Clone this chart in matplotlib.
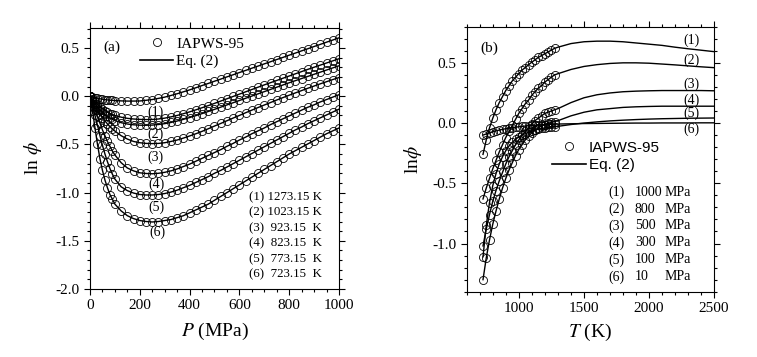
import matplotlib
matplotlib.use('Agg')
import matplotlib.pyplot as plt
from matplotlib.ticker import MultipleLocator
from matplotlib.lines import Line2D

plt.rcParams['font.family'] = 'serif'
plt.rcParams['font.serif'] = ['Liberation Serif', 'DejaVu Serif']
plt.rcParams['mathtext.fontset'] = 'stix'
plt.rcParams['axes.unicode_minus'] = False

# ---- panel (a): ln(phi) vs P for isotherms ----
P = [0, 10, 20, 30, 40, 50, 60, 70, 80, 90, 100,
     125, 150, 175, 200, 225, 250, 275, 300, 325, 350, 375, 400,
     425, 450, 475, 500, 525, 550, 575, 600, 625, 650, 675, 700,
     725, 750, 775, 800, 825, 850, 875, 900, 925, 950, 975, 1000]

lnphi_1273 = [0, -0.008, -0.015, -0.021, -0.027, -0.032, -0.036, -0.039, -0.042, -0.044, -0.046,
              -0.049, -0.051, -0.051, -0.050, -0.043, -0.035, -0.023, -0.010, 0.007, 0.025, 0.045, 0.065,
              0.087, 0.110, 0.132, 0.155, 0.177, 0.200, 0.222, 0.245, 0.267, 0.290, 0.312, 0.335,
              0.357, 0.380, 0.402, 0.425, 0.447, 0.470, 0.492, 0.515, 0.537, 0.560, 0.582, 0.605]
lnphi_extra = [0, -0.030, -0.060, -0.085, -0.110, -0.130, -0.150, -0.165, -0.180, -0.190, -0.200,
               -0.218, -0.230, -0.237, -0.241, -0.243, -0.242, -0.237, -0.228, -0.215, -0.200, -0.182, -0.163,
               -0.142, -0.120, -0.098, -0.075, -0.051, -0.027, -0.003, 0.021, 0.045, 0.069, 0.093, 0.117,
               0.140, 0.163, 0.186, 0.209, 0.232, 0.255, 0.278, 0.300, 0.322, 0.344, 0.366, 0.388]
lnphi_1023 = [0, -0.040, -0.078, -0.112, -0.142, -0.168, -0.190, -0.210, -0.227, -0.241, -0.253,
              -0.275, -0.289, -0.297, -0.301, -0.302, -0.300, -0.294, -0.285, -0.273, -0.258, -0.241, -0.222,
              -0.202, -0.181, -0.159, -0.137, -0.114, -0.091, -0.068, -0.045, -0.022, 0.001, 0.024, 0.047,
              0.070, 0.093, 0.116, 0.139, 0.161, 0.183, 0.205, 0.227, 0.249, 0.271, 0.293, 0.315]
lnphi_923 = [0, -0.050, -0.100, -0.145, -0.185, -0.222, -0.257, -0.288, -0.316, -0.340, -0.362,
             -0.410, -0.445, -0.470, -0.483, -0.490, -0.492, -0.490, -0.483, -0.470, -0.455, -0.435, -0.413,
             -0.390, -0.365, -0.338, -0.310, -0.283, -0.255, -0.227, -0.200, -0.172, -0.145, -0.118, -0.092,
             -0.066, -0.040, -0.015, 0.010, 0.034, 0.058, 0.082, 0.105, 0.128, 0.150, 0.172, 0.193]
lnphi_823 = [0, -0.070, -0.140, -0.210, -0.280, -0.350, -0.410, -0.470, -0.520, -0.570, -0.610,
             -0.690, -0.745, -0.775, -0.795, -0.802, -0.805, -0.800, -0.790, -0.775, -0.755, -0.730, -0.705,
             -0.675, -0.645, -0.615, -0.585, -0.555, -0.520, -0.490, -0.455, -0.425, -0.390, -0.360, -0.330,
             -0.295, -0.265, -0.235, -0.205, -0.175, -0.145, -0.115, -0.090, -0.060, -0.035, -0.010, 0.015]
lnphi_773 = [0, -0.100, -0.200, -0.300, -0.410, -0.510, -0.600, -0.680, -0.750, -0.810, -0.860,
             -0.940, -0.980, -1.005, -1.020, -1.025, -1.025, -1.020, -1.010, -0.995, -0.975, -0.950, -0.925,
             -0.895, -0.865, -0.835, -0.800, -0.770, -0.735, -0.700, -0.665, -0.630, -0.595, -0.560, -0.525,
             -0.490, -0.455, -0.420, -0.385, -0.350, -0.320, -0.285, -0.255, -0.225, -0.195, -0.165, -0.135]
lnphi_723 = [0, -0.150, -0.330, -0.500, -0.650, -0.770, -0.870, -0.950, -1.020, -1.070, -1.120,
             -1.190, -1.240, -1.270, -1.290, -1.300, -1.305, -1.300, -1.290, -1.280, -1.260, -1.240, -1.210,
             -1.180, -1.150, -1.120, -1.080, -1.040, -1.000, -0.960, -0.920, -0.880, -0.840, -0.800, -0.760,
             -0.720, -0.680, -0.640, -0.600, -0.565, -0.530, -0.495, -0.460, -0.425, -0.390, -0.360, -0.330]

isotherms = [lnphi_1273, lnphi_extra, lnphi_1023, lnphi_923, lnphi_823, lnphi_773, lnphi_723]
iso_labels = ['(1)', '(2)', '(3)', '(4)', '(5)', '(6)']
iso_label_pos = [(262, -0.17), (262, -0.40), (262, -0.63), (268, -0.91), (268, -1.15), (272, -1.41)]
iso_legend = ['(1) 1273.15 K', '(2) 1023.15 K', '(3)  923.15  K',
              '(4)  823.15  K', '(5)  773.15  K', '(6)  723.15  K']

# ---- panel (b): ln(phi) vs T for isobars ----
T_data = [723.15, 748.15, 773.15, 798.15, 823.15, 848.15, 873.15, 898.15, 923.15, 948.15,
          973.15, 998.15, 1023.15, 1048.15, 1073.15, 1098.15, 1123.15, 1148.15, 1173.15,
          1198.15, 1223.15, 1248.15, 1273.15]
T_ext = [1300, 1400, 1500, 1600, 1700, 1800, 1900, 2000, 2100, 2200, 2300, 2400, 2500]

phi_1000 = [-0.26, -0.14, -0.04, 0.04, 0.11, 0.17, 0.22, 0.27, 0.31, 0.35, 0.38, 0.41,
            0.44, 0.46, 0.485, 0.505, 0.525, 0.545, 0.56, 0.575, 0.59, 0.605, 0.62]
phi_800 = [-0.63, -0.54, -0.46, -0.38, -0.31, -0.24, -0.18, -0.12, -0.07, -0.02, 0.03, 0.08,
           0.12, 0.16, 0.19, 0.23, 0.26, 0.29, 0.31, 0.34, 0.36, 0.38, 0.40]
phi_500 = [-1.02, -0.88, -0.76, -0.65, -0.56, -0.48, -0.41, -0.34, -0.28, -0.23, -0.18, -0.14,
           -0.10, -0.07, -0.04, -0.01, 0.02, 0.04, 0.06, 0.08, 0.09, 0.10, 0.11]
phi_300 = [-1.30, -1.12, -0.97, -0.84, -0.73, -0.63, -0.54, -0.46, -0.39, -0.33, -0.27, -0.22,
           -0.18, -0.14, -0.11, -0.08, -0.06, -0.04, -0.025, -0.012, -0.002, 0.006, 0.012]
phi_100 = [-1.11, -0.85, -0.66, -0.52, -0.42, -0.34, -0.28, -0.23, -0.19, -0.16, -0.135, -0.115,
           -0.10, -0.087, -0.076, -0.066, -0.058, -0.051, -0.045, -0.040, -0.036, -0.032, -0.030]
phi_10 = [-0.100, -0.090, -0.080, -0.072, -0.065, -0.058, -0.052, -0.047, -0.042, -0.038, -0.034,
          -0.031, -0.028, -0.025, -0.022, -0.020, -0.018, -0.016, -0.014, -0.012, -0.011, -0.010, -0.009]

ext_1000 = [0.63, 0.66, 0.675, 0.68, 0.68, 0.675, 0.665, 0.655, 0.645, 0.63, 0.617, 0.605, 0.593]
ext_800 = [0.41, 0.445, 0.47, 0.485, 0.495, 0.50, 0.50, 0.497, 0.49, 0.483, 0.475, 0.467, 0.46]
ext_500 = [0.12, 0.17, 0.21, 0.235, 0.25, 0.26, 0.265, 0.268, 0.27, 0.27, 0.27, 0.27, 0.268]
ext_300 = [0.02, 0.06, 0.09, 0.11, 0.12, 0.13, 0.135, 0.138, 0.14, 0.14, 0.14, 0.14, 0.14]
ext_100 = [-0.027, -0.012, 0.0, 0.01, 0.018, 0.024, 0.029, 0.033, 0.036, 0.038, 0.04, 0.041, 0.042]
ext_10 = [-0.008, -0.006, -0.004, -0.003, -0.002, -0.001, 0.0, 0.0, 0.001, 0.001, 0.001, 0.002, 0.002]

isobars = [(phi_1000, ext_1000), (phi_800, ext_800), (phi_500, ext_500),
           (phi_300, ext_300), (phi_100, ext_100), (phi_10, ext_10)]
bar_label_pos = [(2330, 0.69), (2330, 0.52), (2330, 0.32), (2330, 0.19), (2330, 0.08), (2330, -0.05)]
bar_num = ['(1)', '(2)', '(3)', '(4)', '(5)', '(6)']
bar_p = ['1000', '800', '500', '300', '100', '10']

mk = dict(marker='o', ms=5.8, mfc='none', mec='k', mew=0.6, ls='none')

fig = plt.figure(figsize=(7.57, 3.57), dpi=100)
ax1 = fig.add_axes([0.1189, 0.1905, 0.3289, 0.7319])
ax2 = fig.add_axes([0.6169, 0.1829, 0.3263, 0.7423])

for y in isotherms:
    ax1.plot(P, y, **mk)
    ax1.plot(P, y, color='k', lw=1.0)

for (yd, ye) in isobars:
    ax2.plot(T_data, yd, **mk)
    ax2.plot(T_data + T_ext, yd + ye, color='k', lw=1.0)

# axes styling
for ax in (ax1, ax2):
    for s in ax.spines.values():
        s.set_linewidth(0.8)
    ax.tick_params(which='both', direction='out', top=True, right=True, labelsize=11, width=0.8)
    ax.tick_params(which='major', length=4)
    ax.tick_params(which='minor', length=2)

ax1.set_xlim(0, 1000)
ax1.set_ylim(-2.0, 0.71)
ax1.xaxis.set_major_locator(MultipleLocator(200))
ax1.xaxis.set_minor_locator(MultipleLocator(50))
ax1.yaxis.set_major_locator(MultipleLocator(0.5))
ax1.yaxis.set_minor_locator(MultipleLocator(0.1))
ax1.yaxis.set_major_formatter(plt.FormatStrFormatter('%.1f'))
ax1.set_xlabel('$P$ (MPa)', fontsize=14, labelpad=6)
ax1.set_ylabel(r'ln $\phi$', fontsize=14, labelpad=8)

ax2.set_xlim(600, 2500)
ax2.set_ylim(-1.4, 0.8)
ax2.set_xticks([1000, 1500, 2000, 2500])
ax2.xaxis.set_minor_locator(MultipleLocator(100))
ax2.yaxis.set_major_locator(MultipleLocator(0.5))
ax2.yaxis.set_minor_locator(MultipleLocator(0.1))
ax2.yaxis.set_major_formatter(plt.FormatStrFormatter('%.1f'))
ax2.set_xlabel('$T$ (K)', fontsize=14, labelpad=5)
ax2.set_ylabel(r'ln$\phi$', fontsize=14, labelpad=6)

# legends
h = [Line2D([], [], **mk), Line2D([], [], color='k', lw=1.2)]
ax1.legend(h, ['IAPWS-95', 'Eq. (2)'], loc='upper left', bbox_to_anchor=(0.2, 0.965),
           frameon=False, fontsize=11, handlelength=2.2, handletextpad=0.2,
           borderpad=0, borderaxespad=0, labelspacing=0.25)
ax2.legend(h, ['IAPWS-95', 'Eq. (2)'], loc='upper left', bbox_to_anchor=(0.345, 0.57),
           frameon=False, prop={'family': 'Liberation Sans', 'size': 11}, handlelength=2.2,
           handletextpad=0.2, borderpad=0, borderaxespad=0, labelspacing=0.25)

ax1.text(0.052, 0.926, '(a)', transform=ax1.transAxes, fontsize=11, va='center')
ax2.text(0.055, 0.92, '(b)', transform=ax2.transAxes, fontsize=11, va='center')

for lab, (x, y) in zip(iso_labels, iso_label_pos):
    ax1.text(x, y, lab, fontsize=10, ha='center', va='center')
for i, s in enumerate(iso_legend):
    ax1.text(0.64, 0.352 - i * 0.0595, s, transform=ax1.transAxes, fontsize=9.3, va='center')

for lab, (x, y) in zip(bar_num, bar_label_pos):
    ax2.text(x, y, lab, fontsize=10, ha='center', va='center')
for i in range(6):
    yy = 0.376 - i * 0.064
    ax2.text(0.571, yy, bar_num[i], transform=ax2.transAxes, fontsize=10, va='center')
    ax2.text(0.68, yy, bar_p[i], transform=ax2.transAxes, fontsize=10, va='center')
    ax2.text(0.80, yy, 'MPa', transform=ax2.transAxes, fontsize=10, va='center')

fig.savefig('out.png', dpi=100)
